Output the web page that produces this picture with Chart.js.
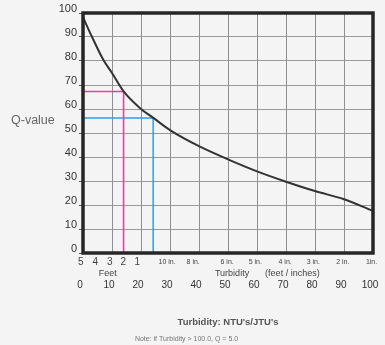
<!DOCTYPE html>
<html>
<head>
<meta charset="utf-8">
<script src="https://cdn.jsdelivr.net/npm/chart.js@4"></script>
<style>
  html, body { margin: 0; padding: 0; background: #f4f4f4; }
  #wrap { width: 385px; height: 345px; position: relative; }
</style>
</head>
<body>
<div id="wrap"><canvas id="c"></canvas></div>
<script>
// ---- data ----
const turbidity = [0, 3, 7, 10, 14, 20, 24, 30, 40, 50, 60, 70, 80, 90, 100];
const qValue    = [98.3, 90.3, 80.5, 75, 67.3, 60, 56.5, 51.2, 44.5, 39, 34, 29.7, 25.8, 22.4, 17.5];

// reference guides (pink = 2 ft, blue)
const pinkX = [0, 14, 14];
const pinkY = [67.3, 67.3, 0];
const blueX = [0, 24.2, 24.2];
const blueY = [56.3, 56.3, 0];

// tick labels
const yTicks = [0, 10, 20, 30, 40, 50, 60, 70, 80, 90, 100];
const ntuTicks = [0, 10, 20, 30, 40, 50, 60, 70, 80, 90, 100];
const depthLabels = ['5', '4', '3', '2', '1', '10 in.', '8 in.', '6 in.', '5 in.', '4 in.', '3 in.', '2 in.', '1in.'];
const depthPos    = [-0.8, 4.2, 9.2, 13.9, 18.7, 29, 38, 49.7, 59.4, 69.7, 79.4, 89.6, 99.5];
const feetCount = 5;

const FONT = '"Liberation Sans", Arial, sans-serif';

const toPts = (xs, ys) => xs.map((x, i) => ({ x: x, y: ys[i] }));

const framePlugin = {
  id: 'frame',
  afterDatasetsDraw(chart) {
    const a = chart.chartArea, ctx = chart.ctx;
    ctx.save();
    ctx.strokeStyle = '#262626';
    ctx.lineWidth = 3.5;
    ctx.strokeRect(a.left, a.top, a.right - a.left, a.bottom - a.top);
    ctx.restore();
  },
  afterDraw(chart) {
    const a = chart.chartArea, ctx = chart.ctx;
    const w = a.right - a.left, h = a.bottom - a.top;
    ctx.save();
    ctx.textBaseline = 'middle';
    ctx.fillStyle = '#666';
    ctx.font = '12.5px ' + FONT;
    ctx.textAlign = 'left';
    ctx.fillText('Q-value', 11, a.top + 0.447 * h);
    ctx.fillStyle = '#444';
    ctx.font = '9px ' + FONT;
    ctx.textAlign = 'center';
    const rowY = a.bottom + 20.5;
    ctx.fillText('Feet', a.left + 0.085 * w, rowY);
    ctx.textAlign = 'left';
    ctx.fillText('Turbidity', a.left + 0.455 * w, rowY);
    ctx.fillText('(feet / inches)', a.left + 0.628 * w, rowY);
    ctx.restore();
  }
};

new Chart(document.getElementById('c'), {
  type: 'line',
  data: {
    datasets: [
      { data: toPts(turbidity, qValue), borderColor: '#333', borderWidth: 2, pointRadius: 0,
        cubicInterpolationMode: 'monotone', fill: false, order: 0 },
      { data: toPts(pinkX, pinkY), borderColor: '#ee3d96', borderWidth: 1.5, pointRadius: 0,
        tension: 0, fill: false, order: 1 },
      { data: toPts(blueX, blueY), borderColor: '#2f9ee6', borderWidth: 1.5, pointRadius: 0,
        tension: 0, fill: false, order: 1 }
    ]
  },
  options: {
    responsive: true,
    maintainAspectRatio: false,
    animation: false,
    layout: { padding: { top: 13, right: 12, left: 0, bottom: 0 } },
    plugins: {
      legend: { display: false },
      tooltip: { enabled: false },
      title: {
        display: true, position: 'bottom',
        text: 'Note: if Turbidity > 100.0, Q = 5.0',
        color: '#777', font: { family: FONT, size: 7, weight: 'normal' },
        padding: { top: 3, bottom: 2 }
      }
    },
    scales: {
      y: {
        type: 'linear', min: 0, max: 100,
        afterBuildTicks: s => { s.ticks = yTicks.map(v => ({ value: v })); },
        afterFit: s => { s.width = 83; },
        border: { display: false },
        grid: { color: '#999', lineWidth: 1, drawTicks: true, tickLength: 4, tickColor: '#555' },
        ticks: { color: '#333', font: { family: FONT, size: 11 }, padding: 2, labelOffset: -4 }
      },
      x: {
        type: 'linear', min: 0, max: 100, position: 'bottom', weight: 1,
        afterBuildTicks: s => { s.ticks = ntuTicks.map(v => ({ value: v })); },
        afterFit: s => { s.height = 54.6; },
        border: { display: false },
        grid: { color: '#8f8f8f', lineWidth: 1, drawTicks: false },
        ticks: { color: '#333', font: { family: FONT, size: 10 }, padding: 2, labelOffset: -3,
                 maxRotation: 0, autoSkip: false },
        title: { display: true, text: "Turbidity: NTU's/JTU's", color: '#555',
                 font: { family: FONT, size: 9.5, weight: 'bold' }, padding: { top: 0, bottom: 4 } }
      },
      x2: {
        type: 'linear', min: 0, max: 100, position: 'bottom', weight: 0,
        afterBuildTicks: s => { s.ticks = depthPos.map(v => ({ value: v })); },
        afterFit: s => { s.height = 24; },
        border: { display: false },
        grid: { display: false, drawTicks: false },
        ticks: {
          color: '#444', padding: 3, maxRotation: 0, autoSkip: false,
          font: ctx => (ctx.index < feetCount
            ? { family: FONT, size: 10, lineHeight: 1.2 }
            : { family: FONT, size: 7, lineHeight: 12 / 7 }),
          callback: (v, i) => depthLabels[i]
        }
      }
    }
  },
  plugins: [framePlugin]
});
</script>
</body>
</html>
